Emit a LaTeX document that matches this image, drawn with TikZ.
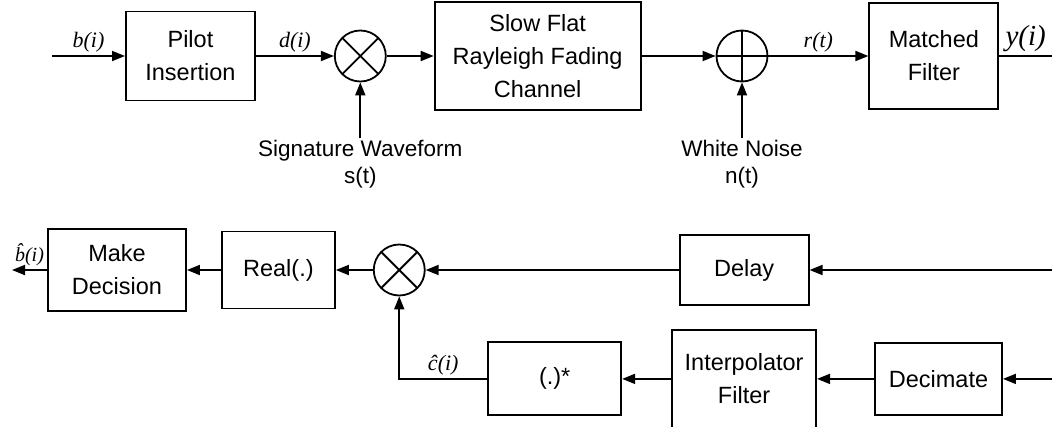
\documentclass[tikz,border=0pt]{standalone}
\usepackage{fontspec}
\setmainfont{Liberation Sans}
\newfontfamily\lblfont{Liberation Serif}
\usetikzlibrary{arrows.meta,positioning}

\begin{document}
\begin{tikzpicture}[
  >={Triangle[length=13pt,width=10pt]},
  line width=1.8pt,
  blk/.style={draw,line width=1.9pt,align=center,inner sep=0pt,
              font=\fontsize{23.5}{33}\selectfont},
  mixer/.style={circle,draw,minimum size=51pt,inner sep=0pt,
                path picture={\draw (path picture bounding box.north west) -- (path picture bounding box.south east)
                                    (path picture bounding box.north east) -- (path picture bounding box.south west);}},
  summer/.style={circle,draw,minimum size=51pt,inner sep=0pt,
                 path picture={\draw (path picture bounding box.north) -- (path picture bounding box.south)
                                     (path picture bounding box.west) -- (path picture bounding box.east);}},
  src/.style={align=center,inner sep=1pt,font=\fontsize{22.5}{27}\selectfont},
  sig/.style={inner sep=3pt,font=\lblfont\itshape\fontsize{22}{26}\selectfont}
]
\useasboundingbox (0,0) rectangle (1052pt,-426pt);

\coordinate (bin) at (52pt,-56pt);
\node[blk,minimum width=129pt,minimum height=89pt,right=73pt of bin] (pilot) {Pilot\\Insertion};
\node[mixer,right=78pt of pilot] (mul1) {};
\node[blk,minimum width=206pt,minimum height=108pt,right=47pt of mul1] (chan) {Slow Flat\\Rayleigh Fading\\Channel};
\node[summer,right=74pt of chan] (add) {};
\node[blk,minimum width=129pt,minimum height=106pt,right=100pt of add] (mf) {Matched\\Filter};
\coordinate (yout) at (1052pt,-56pt);
\node[src,below=56pt of mul1] (swave) {Signature Waveform\\s(t)};
\node[src,below=56pt of add] (noise) {White Noise\\n(t)};

\node[blk,minimum width=138pt,minimum height=82pt] (decide) at (117pt,-270pt) {Make\\Decision};
\node[blk,minimum width=113pt,minimum height=77pt,right=34pt of decide] (real) {Real(.)};
\node[mixer,right=37pt of real] (mul2) {};
\node[blk,minimum width=129pt,minimum height=70pt,right=253pt of mul2] (delay) {Delay};
\node[blk,minimum width=144pt,minimum height=98pt,below=23pt of delay] (interp) {Interpolator\\Filter};
\node[blk,minimum width=133pt,minimum height=73pt,left=49pt of interp] (conj) {(.)*};
\node[blk,minimum width=127pt,minimum height=72pt,right=57pt of interp] (decim) {Decimate};
\coordinate (din) at (1052pt,-270pt);
\coordinate (cin) at (decim.east -| din);
\coordinate (bout) at (12pt,-270pt);

\draw[->] (bin) -- node[sig,above]{b(i)} (pilot);
\draw[->] (pilot) -- node[sig,above]{d(i)} (mul1);
\draw[->] (mul1) -- (chan);
\draw[->] (chan) -- (add);
\draw[->] (add) -- node[sig,above]{r(t)} (mf);
\draw (mf) -- node[sig,above,font=\lblfont\itshape\fontsize{29}{32}\selectfont]{y(i)} (yout);
\draw[->] (swave) -- (mul1);
\draw[->] (noise) -- (add);

\draw[->] (din) -- (delay);
\draw[->] (delay) -- (mul2);
\draw[->] (mul2) -- (real);
\draw[->] (real) -- (decide);
\draw[->] (decide) -- node[sig,above,font=\lblfont\itshape\fontsize{20}{24}\selectfont]{\^{b}(i)} (bout);
\draw[->] (cin) -- (decim);
\draw[->] (decim) -- (interp);
\draw[->] (interp) -- (conj);
\draw[->] (conj) -| node[sig,above,pos=0.25]{\^{c}(i)} (mul2);
\end{tikzpicture}
\end{document}
